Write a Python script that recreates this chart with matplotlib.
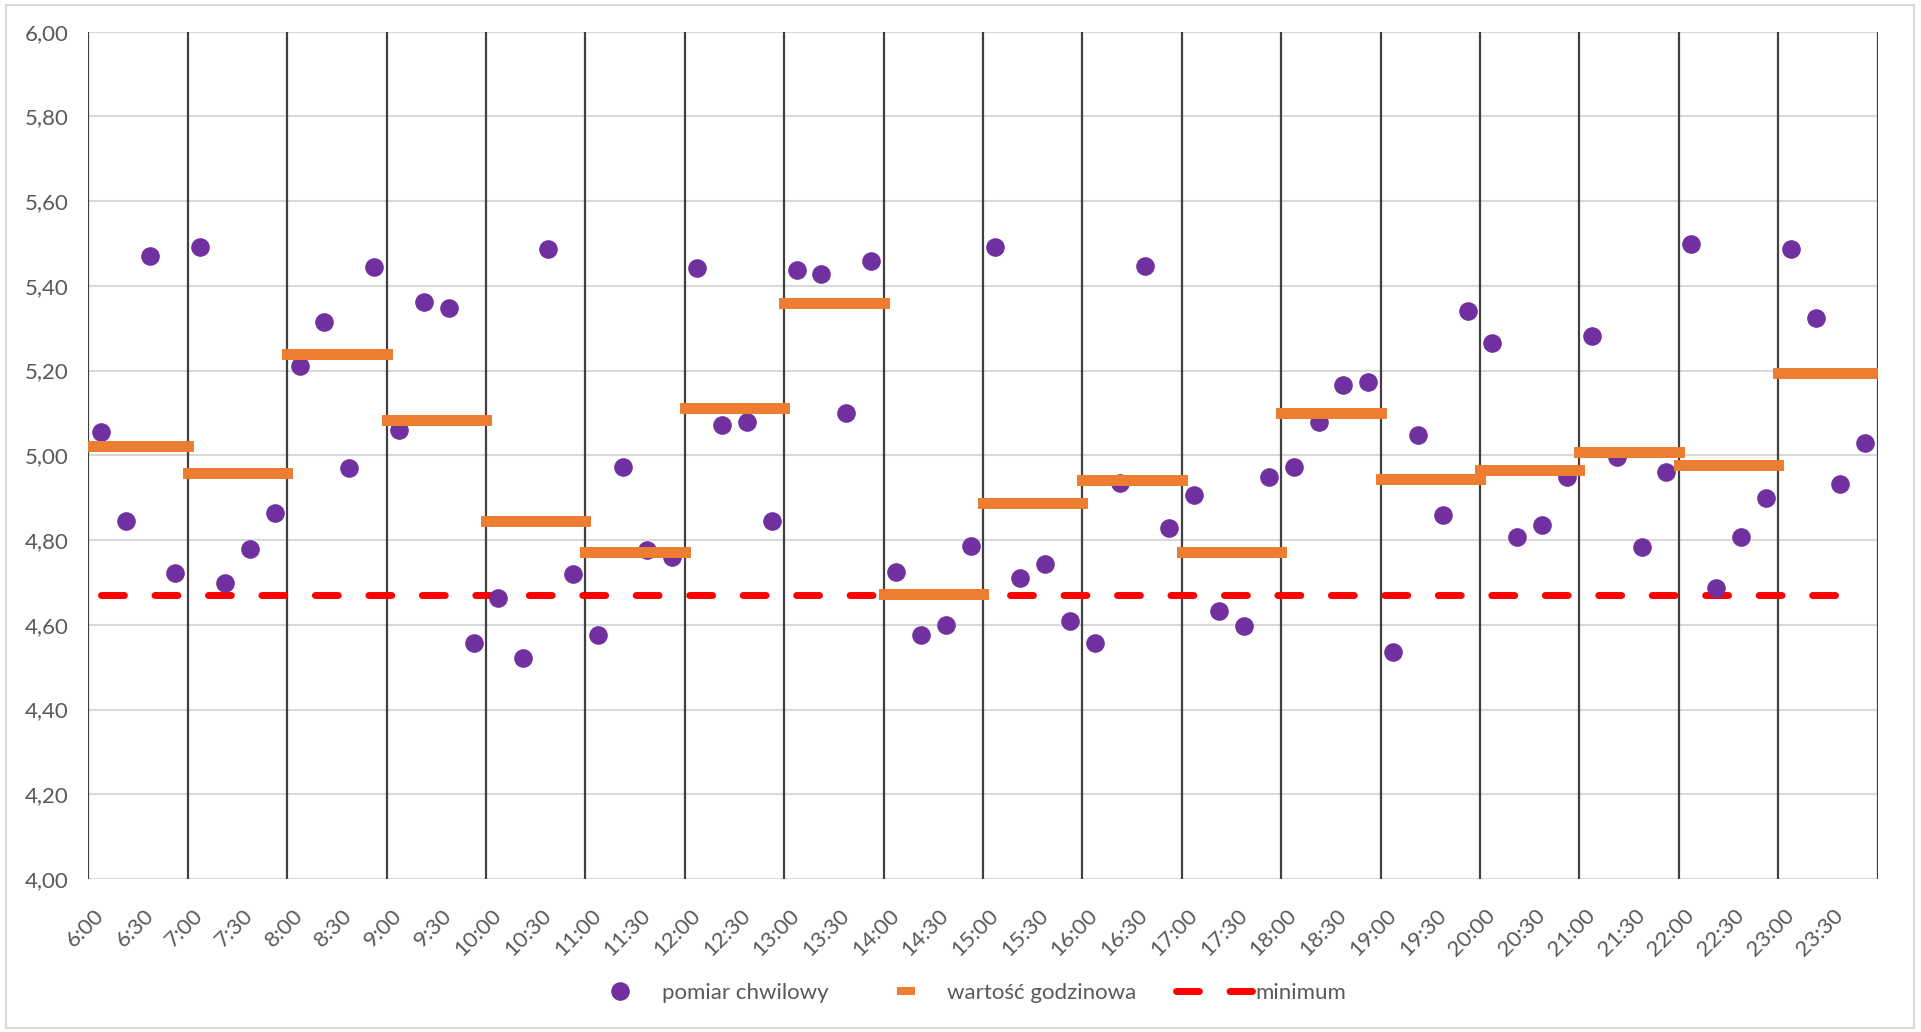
import matplotlib.pyplot as plt
from matplotlib.lines import Line2D
from matplotlib.patches import Rectangle

plt.rcParams['font.family'] = ['Lato', 'DejaVu Sans']

# quarter-hour categories 6:00 .. 23:45
hours = list(range(6, 24))
categories = [f"{h}:{m:02d}" for h in hours for m in (0, 15, 30, 45)]
tick_labels = [f"{h}:{m:02d}" for h in hours for m in (0, 30)]

# instantaneous readings (pomiar chwilowy)
readings = [
    5.054, 4.844, 5.471, 4.722, 5.492, 4.698, 4.778, 4.865,
    5.212, 5.315, 4.970, 5.445, 5.060, 5.363, 5.348, 4.558,
    4.663, 4.522, 5.487, 4.719, 4.576, 4.973, 4.777, 4.759,
    5.441, 5.072, 5.078, 4.846, 5.438, 5.429, 5.100, 5.459,
    4.725, 4.576, 4.600, 4.787, 5.492, 4.710, 4.743, 4.609,
    4.558, 4.934, 5.448, 4.829, 4.906, 4.633, 4.597, 4.950,
    4.973, 5.078, 5.166, 5.172, 4.535, 5.048, 4.858, 5.341,
    5.266, 4.808, 4.836, 4.950, 5.282, 4.995, 4.784, 4.961,
    5.499, 4.686, 4.808, 4.900, 5.487, 5.323, 4.932, 5.028,
]

# hourly values (wartość godzinowa), one per hour 6..23
hourly = [5.023, 4.959, 5.238, 5.083, 4.845, 4.771, 5.111, 5.359, 4.673,
          4.888, 4.942, 4.771, 5.099, 4.944, 4.965, 5.009, 4.976, 5.195]

minimum = 4.671

purple = '#7030A0'
orange = '#ED7D31'
red = '#FF0000'
text_col = '#595959'

fig = plt.figure(figsize=(19.21, 10.32), dpi=100)
ax = fig.add_axes([0.04597, 0.1483, 0.9315, 0.8210])

x = list(range(len(categories)))
n_per_hour = 4

# hour separators
bounds = [i * n_per_hour - 0.5 for i in range(len(hours) + 1)]
ax.vlines(bounds, 4.0, 6.0, color='#404040', lw=1.6, zorder=2)

# minimum line
ax.plot([x[0], x[-1]], [minimum, minimum], color=red, lw=5.0,
        dashes=(3.3, 4.4), dash_capstyle='round', zorder=3)

# readings
ax.plot(x, readings, 'o', color=purple, markersize=12.4, zorder=4)

# hourly bars
for i, v in enumerate(hourly):
    ax.plot([bounds[i], bounds[i + 1]], [v, v], color=orange, lw=7.9,
            solid_capstyle='projecting', zorder=5)

ax.set_xlim(-0.5, len(categories) - 0.5)
ax.set_ylim(4.0, 6.0)
yt = [4.0 + 0.2 * k for k in range(11)]
ax.set_yticks(yt)
ax.set_yticklabels([f"{v:.2f}".replace('.', ',') for v in yt])
ax.grid(axis='y', color='#D9D9D9', lw=1.5, zorder=0)
ax.set_axisbelow(True)
for s in ax.spines.values():
    s.set_visible(False)

ax.set_xticks(x[::2])
ax.set_xticklabels(tick_labels, rotation=45, ha='right', va='center',
                   rotation_mode='anchor')
ax.tick_params(axis='both', length=0, labelsize=16, labelcolor=text_col)
ax.tick_params(axis='x', pad=24)
ax.tick_params(axis='y', pad=14)

handles = [
    Line2D([], [], ls='none', marker='o', color=purple, markersize=12.4),
    Line2D([], [], ls='none', marker='_', color=orange, markersize=13,
           markeredgewidth=5.8),
    Line2D([], [], color=red, lw=5.0, dashes=(3.3, 4.4), dash_capstyle='round'),
]
labels = ['pomiar chwilowy', 'wartość godzinowa', 'minimum']
leg = fig.legend(handles, labels, loc='center', bbox_to_anchor=(0.502, 0.0378),
                 ncol=3, frameon=False, fontsize=16, handlelength=3.4,
                 handletextpad=0.15, columnspacing=1.8)
for t in leg.get_texts():
    t.set_color(text_col)

# outer chart border
fig.patches.append(Rectangle((6 / 1921, 4 / 1032), 1908 / 1921, 1023 / 1032,
                             transform=fig.transFigure, fill=False,
                             edgecolor='#D9D9D9', lw=1.5))

fig.savefig('out.png', dpi=100)
